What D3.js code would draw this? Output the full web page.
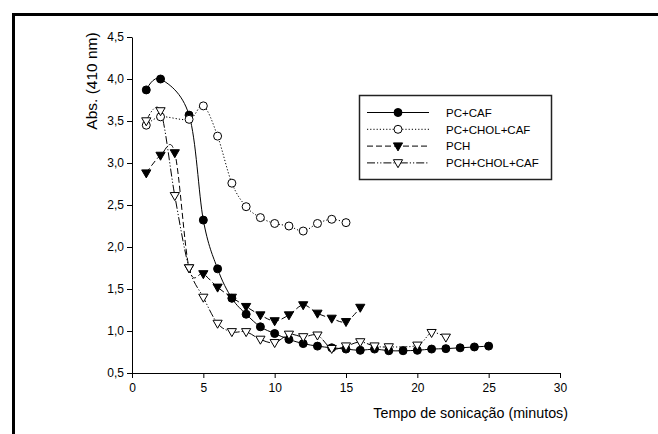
<!DOCTYPE html>
<html>
<head>
<meta charset="utf-8">
<script src="https://cdn.jsdelivr.net/npm/d3@7"></script>
<style>
  body { margin: 0; background: #fff; }
  svg { display: block; font-family: "Liberation Sans", Arial, sans-serif; }
</style>
</head>
<body>
<div id="chart"></div>
<script>
// data
var pcCafX = [1, 2, 4, 5, 6, 7, 8, 9, 10, 11, 12, 13, 14, 15, 16, 17, 18, 19, 20, 21, 22, 23, 24, 25];
var pcCafY = [3.87, 4.0, 3.57, 2.32, 1.74, 1.39, 1.2, 1.05, 0.97, 0.9, 0.85, 0.82, 0.8, 0.785, 0.77, 0.785, 0.765, 0.765, 0.77, 0.785, 0.79, 0.8, 0.81, 0.82];

var pcCholX = [1, 2, 4, 5, 6, 7, 8, 9, 10, 11, 12, 13, 14, 15];
var pcCholY = [3.45, 3.55, 3.52, 3.68, 3.32, 2.76, 2.48, 2.35, 2.28, 2.25, 2.19, 2.28, 2.33, 2.29];

var pchX = [1, 2, 3, 4, 5, 6, 7, 8, 9, 10, 11, 12, 13, 14, 15, 16];
var pchY = [2.88, 3.09, 3.12, 1.75, 1.68, 1.52, 1.4, 1.29, 1.19, 1.12, 1.19, 1.31, 1.21, 1.15, 1.11, 1.28];

var pchCholX = [1, 2, 3, 4, 5, 6, 7, 8, 9, 10, 11, 12, 13, 14, 15, 16, 17, 18, 20, 21, 22];
var pchCholY = [3.5, 3.62, 2.61, 1.75, 1.4, 1.09, 0.99, 0.99, 0.9, 0.86, 0.96, 0.93, 0.95, 0.79, 0.82, 0.87, 0.82, 0.81, 0.83, 0.98, 0.925];

var seriesNames = ["PC+CAF", "PC+CHOL+CAF", "PCH", "PCH+CHOL+CAF"];
var xTicks = [0, 5, 10, 15, 20, 25, 30];
var yTicks = [0.5, 1.0, 1.5, 2.0, 2.5, 3.0, 3.5, 4.0, 4.5];

var width = 658, height = 434;
var margin = {left: 132, top: 37, right: 98, bottom: 61};

var svg = d3.select("#chart").append("svg")
  .attr("width", width)
  .attr("height", height);

// outer frame (runs off the right and bottom edge)
svg.append("rect")
  .attr("x", 13.5).attr("y", 14.5)
  .attr("width", 700).attr("height", 500)
  .attr("fill", "none")
  .attr("stroke", "#000")
  .attr("stroke-width", 3);

var x = d3.scaleLinear().domain([0, 30]).range([margin.left, width - margin.right]);
var y = d3.scaleLinear().domain([0.5, 4.5]).range([height - margin.bottom, margin.top]);

var fmt = function(d) { return d3.format(".1f")(d).replace(".", ","); };

var xAxis = svg.append("g")
  .attr("transform", "translate(0," + y(0.5) + ")")
  .call(d3.axisBottom(x).tickValues(xTicks).tickSize(5).tickPadding(5).tickSizeOuter(0));
var yAxis = svg.append("g")
  .attr("transform", "translate(" + x(0) + ",0)")
  .call(d3.axisLeft(y).tickValues(yTicks).tickFormat(fmt).tickSize(5).tickPadding(3).tickSizeOuter(0));

[xAxis, yAxis].forEach(function(a) {
  a.selectAll("text").style("font-size", "12px").style("font-family", "Liberation Sans, Arial, sans-serif").attr("fill", "#000");
  a.selectAll("line").attr("stroke", "#000");
  a.select(".domain").attr("stroke", "#000");
});

svg.append("text")
  .attr("transform", "translate(97,81) rotate(-90)")
  .attr("text-anchor", "middle")
  .style("font-size", "15.5px")
  .text("Abs. (410 nm)");

svg.append("text")
  .attr("x", 568).attr("y", 418)
  .attr("text-anchor", "end")
  .style("font-size", "14.3px")
  .text("Tempo de sonicação (minutos)");

var series = [
  {name: seriesNames[0], xs: pcCafX, ys: pcCafY, dash: null, marker: "circle", fill: "#000"},
  {name: seriesNames[1], xs: pcCholX, ys: pcCholY, dash: "1.2,2", marker: "circle", fill: "#fff"},
  {name: seriesNames[2], xs: pchX, ys: pchY, dash: "6,3", marker: "tri", fill: "#000"},
  {name: seriesNames[3], xs: pchCholX, ys: pchCholY, dash: "8,2,1.2,2,1.2,2", marker: "tri", fill: "#fff"}
];

var line = d3.line()
  .x(function(d) { return x(d[0]); })
  .y(function(d) { return y(d[1]); })
  .curve(d3.curveCardinal.tension(0));

var triPath = "M-4.6,-3.2L4.6,-3.2L0,4.8Z";

function drawMarker(g, s) {
  if (s.marker === "circle") {
    g.append("circle").attr("r", 4)
      .attr("fill", s.fill).attr("stroke", "#000").attr("stroke-width", 1);
  } else {
    g.append("path").attr("d", triPath)
      .attr("fill", s.fill).attr("stroke", "#000").attr("stroke-width", 1);
  }
}

series.forEach(function(s) {
  var pts = s.xs.map(function(v, i) { return [v, s.ys[i]]; });
  svg.append("path")
    .datum(pts)
    .attr("d", line)
    .attr("fill", "none")
    .attr("stroke", "#000")
    .attr("stroke-width", 1)
    .attr("stroke-dasharray", s.dash);
  s.points = pts;
});

series.forEach(function(s) {
  s.points.forEach(function(p) {
    var g = svg.append("g").attr("transform", "translate(" + x(p[0]) + "," + y(p[1]) + ")");
    drawMarker(g, s);
  });
});

// legend
var legend = svg.append("g");
legend.append("rect")
  .attr("x", 359.5).attr("y", 95.5)
  .attr("width", 192).attr("height", 84)
  .attr("fill", "#fff")
  .attr("stroke", "#222")
  .attr("stroke-width", 1.5);

series.forEach(function(s, i) {
  var ry = 112.5 + i * 16.8;
  legend.append("line")
    .attr("x1", 367).attr("x2", 429)
    .attr("y1", ry).attr("y2", ry)
    .attr("stroke", "#000")
    .attr("stroke-width", 1)
    .attr("stroke-dasharray", s.dash);
  var g = legend.append("g").attr("transform", "translate(398," + ry + ")");
  drawMarker(g, s);
  legend.append("text")
    .attr("x", 446).attr("y", ry + 4.2)
    .style("font-size", "11.5px")
    .text(s.name);
});
</script>
</body>
</html>
